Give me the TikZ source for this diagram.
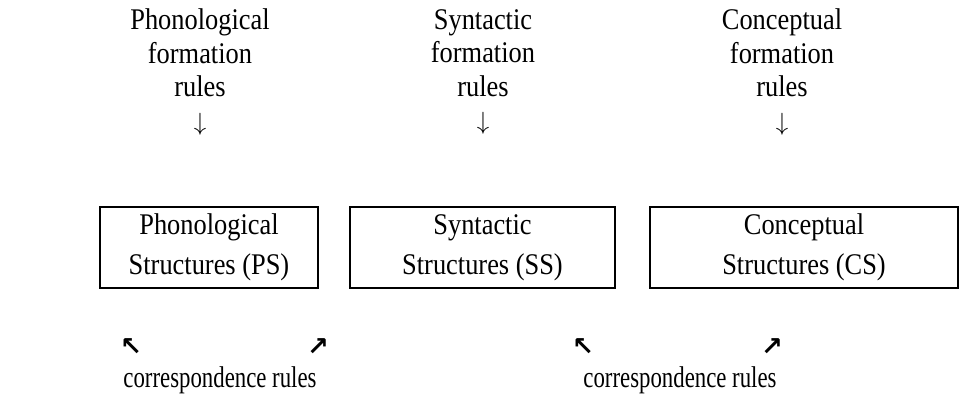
\documentclass[tikz,border=0pt]{standalone}
\usepackage{fontspec}
\setmainfont{Liberation Serif}[FakeStretch=0.88]
\newfontfamily\corrfont{Liberation Serif}[FakeStretch=0.76]
\newfontfamily\arrowfont{DejaVu Sans}

\begin{document}
\begin{tikzpicture}[x=1pt,y=-1pt,
    lbl/.style={align=center, font=\fontsize{30}{33.5}\selectfont, inner sep=0pt},
    structbox/.style={draw, line width=2pt, minimum height=81pt, inner sep=0pt, align=center, font=\fontsize{30}{40}\selectfont},
    corrlbl/.style={font=\corrfont\fontsize{30}{30}\selectfont, inner sep=0pt},
    corr/.style={font=\arrowfont\bfseries\fontsize{26}{26}\selectfont, inner sep=0pt, text height=14pt, text depth=0pt}]
\useasboundingbox (0,0) rectangle (960,399);

%% formation rules on top
    \node[lbl] (phonrules) at (200,72) {Phonological\\formation\\rules\\$\downarrow$};
    \node[lbl] (synrules) at (483,72) {Syntactic\\formation\\rules\\$\downarrow$};
    \node[lbl] (conrules) at (782,72) {Conceptual\\formation\\rules\\$\downarrow$};

%% the three structures
    \node[structbox, minimum width=218pt] (ps) at (209,247.5) {Phonological\\Structures (PS)};
    \node[structbox, minimum width=265pt] (ss) at (482.5,247.5) {Syntactic\\Structures (SS)};
    \node[structbox, minimum width=308pt] (cs) at (804,247.5) {Conceptual\\Structures (CS)};

%% correspondence rules
    \node[corr] (psup) at (131,348) {↖};
    \node[corr] (ssupl) at (318,348) {↗};
    \node[corr] (ssupr) at (583,348) {↖};
    \node[corr] (csup) at (772,348) {↗};
    \node[corrlbl] (pscorr) at (220,380) {correspondence rules};
    \node[corrlbl] (cscorr) at (680,380) {correspondence rules};

\end{tikzpicture}
\end{document}
